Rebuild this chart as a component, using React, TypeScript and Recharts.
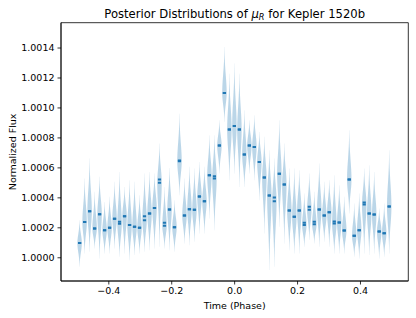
import React from 'react';
import { ComposedChart, Bar, XAxis, YAxis, ReferenceArea, Label } from 'recharts';

// Phase position of each posterior (63 bins)
const phases = [
  -0.4921, -0.4762, -0.4603, -0.4444, -0.4286, -0.4127, -0.3968, -0.381, -0.3651, -0.3492,
  -0.3333, -0.3175, -0.3016, -0.2857, -0.2698, -0.254, -0.2381, -0.2222, -0.2063, -0.1905,
  -0.1746, -0.1587, -0.1429, -0.127, -0.1111, -0.0952, -0.0794, -0.0635, -0.0476, -0.0317,
  -0.0159, 0.0, 0.0159, 0.0317, 0.0476, 0.0635, 0.0794, 0.0952, 0.1111, 0.127,
  0.1429, 0.1587, 0.1746, 0.1905, 0.2063, 0.2222, 0.2381, 0.254, 0.2698, 0.2857,
  0.3016, 0.3175, 0.3333, 0.3492, 0.3651, 0.381, 0.3968, 0.4127, 0.4286, 0.4444,
  0.4603, 0.4762, 0.4921,
];

const medians = [
  1.000098, 1.000238, 1.000311, 1.000196, 1.000291, 1.000184, 1.0002, 1.00026, 1.000227, 1.000278,
  1.000218, 1.000207, 1.0002, 1.000251, 1.000296, 1.000333, 1.0005, 1.000213, 1.000322, 1.000204,
  1.000644, 1.000282, 1.000324, 1.00032, 1.000409, 1.000378, 1.000551, 1.000529, 1.000749, 1.0011,
  1.000856, 1.00088, 1.000856, 1.000689, 1.000749, 1.00074, 1.00064, 1.000536, 1.000416, 1.000378,
  1.00056, 1.000489, 1.000316, 1.000273, 1.000316, 1.000218, 1.00032, 1.000224, 1.000322, 1.000282,
  1.000304, 1.000229, 1.000236, 1.000182, 1.000522, 1.000147, 1.000184, 1.000356, 1.000296, 1.000289,
  1.000176, 1.000164, 1.000342,
];

const means = [
  1.000098, 1.000238, 1.000311, 1.000196, 1.000291, 1.000184, 1.0002, 1.00026, 1.00024, 1.000278,
  1.000218, 1.000207, 1.0002, 1.000278, 1.000296, 1.000333, 1.000522, 1.000233, 1.000322, 1.000204,
  1.00065, 1.000282, 1.000324, 1.00032, 1.000409, 1.000378, 1.000551, 1.000544, 1.000749, 1.0011,
  1.000856, 1.00088, 1.000856, 1.000689, 1.000749, 1.00074, 1.00064, 1.000536, 1.000416, 1.000402,
  1.00056, 1.000489, 1.000316, 1.000273, 1.000316, 1.000233, 1.00034, 1.00024, 1.000322, 1.000282,
  1.000304, 1.000242, 1.000236, 1.000182, 1.000522, 1.000147, 1.000184, 1.000369, 1.000296, 1.000289,
  1.000176, 1.000164, 1.000342,
];

const uppers = [
  1.000251, 1.000529, 1.000662, 1.00044, 1.00054, 1.000373, 1.000407, 1.000507, 1.000573, 1.000473,
  1.000518, 1.000507, 1.000418, 1.000562, 1.000573, 1.000562, 1.000762, 1.000473, 1.0006, 1.000384,
  1.000962, 1.000529, 1.000607, 1.000596, 1.00064, 1.000607, 1.000818, 1.000818, 1.000918, 1.001407,
  1.001229, 1.001296, 1.001229, 1.000984, 1.000918, 1.000951, 1.00084, 1.000807, 1.000718, 1.000662,
  1.000918, 1.000762, 1.000596, 1.000596, 1.000584, 1.000429, 1.000562, 1.00044, 1.000629, 1.000507,
  1.000518, 1.000551, 1.000484, 1.000407, 1.000851, 1.000362, 1.000429, 1.000596, 1.000618, 1.000573,
  1.000329, 1.000362, 1.000718,
];

const lowers = [
  0.99994, 1.000029, 1.00004, 1.000062, 0.999996, 1.000029, 1.000029, 1.000062, 1.000007, 1.000029,
  0.999984, 1.000018, 1.000029, 1.00004, 1.000051, 1.000062, 1.000073, 1.000062, 1.000051, 1.00004,
  1.000418, 1.000096, 1.000084, 1.000107, 1.000162, 1.000162, 1.000262, 1.000184, 1.000562, 1.000907,
  1.000518, 1.000562, 1.000473, 1.000473, 1.000562, 1.000518, 1.000384, 1.000162, 0.999918, 0.99994,
  1.000207, 1.000096, 1.000051, 1.000029, 1.000029, 1.000073, 1.000118, 1.000096, 1.000073, 1.000107,
  1.000073, 1.000029, 1.000029, 1.000029, 1.000296, 1.000007, 0.999996, 1.000029, 1.000018, 1.000029,
  0.999996, 1.000007, 1.000029,
];

const xTicks = [-0.4, -0.2, 0.0, 0.2, 0.4];
const yTicks = [1.0, 1.0002, 1.0004, 1.0006, 1.0008, 1.001, 1.0012, 1.0014];
const xDomain: [number, number] = [-0.552, 0.552];
const yDomain: [number, number] = [0.999845, 1.001569];

const data = phases.map((p, i) => ({
  phase: p,
  range: [lowers[i], uppers[i]],
  lo: lowers[i],
  hi: uppers[i],
  median: medians[i],
  mean: means[i],
}));

const C0 = '#1f77b4';
const FONT = 'DejaVu Sans';

const Violin = (props: any) => {
  const { x, y, width, height, payload } = props;
  if (x == null || y == null) return null;
  const top = Math.min(y, y + height);
  const bot = Math.max(y, y + height);
  const hi = payload.hi;
  const lo = payload.lo;
  const toPx = (v: number) => top + ((bot - top) * (hi - v)) / (hi - lo);
  const cx = x + width / 2;
  const hw = width / 2;
  const medPx = toPx(payload.median);
  const sUp = Math.max((medPx - top) / 2.6, 0.5);
  const sDn = Math.max((bot - medPx) / 2.6, 0.5);
  const n = 60;
  const right: string[] = [];
  const left: string[] = [];
  for (let i = 0; i <= n; i++) {
    const py = top + ((bot - top) * i) / n;
    const d = py - medPx;
    const s = d < 0 ? sUp : sDn;
    const w = hw * Math.exp(-0.5 * (d / s) * (d / s));
    right.push(`${(cx + w).toFixed(2)},${py.toFixed(2)}`);
    left.unshift(`${(cx - w).toFixed(2)},${py.toFixed(2)}`);
  }
  const path = `M${right.join('L')}L${left.join('L')}Z`;
  const ml = 1.6;
  const meanPx = toPx(payload.mean);
  return (
    <g>
      <path d={path} fill={C0} fillOpacity={0.3} stroke="none" />
      <line x1={cx - ml} x2={cx + ml} y1={medPx} y2={medPx} stroke={C0} strokeWidth={2} />
      <line x1={cx - ml} x2={cx + ml} y1={meanPx} y2={meanPx} stroke={C0} strokeWidth={2} />
    </g>
  );
};

const fmtX = (v: number) => v.toFixed(1).replace('-', '\u2212');
const fmtY = (v: number) => v.toFixed(4);

export default function App() {
  return (
    <div style={{ position: 'absolute', left: 0, top: 0, width: 416, height: 318, background: '#fff' }}>
      <ComposedChart
        width={416}
        height={318}
        data={data}
        margin={{ top: 22.7, right: 7.7, left: 0, bottom: 0 }}
      >
        <XAxis
          dataKey="phase"
          type="number"
          domain={xDomain}
          ticks={xTicks}
          tickFormatter={fmtX}
          allowDataOverflow
          height={37}
          tickSize={3.5}
          tickMargin={3}
          axisLine={{ stroke: '#000', strokeWidth: 0.8 }}
          tickLine={{ stroke: '#000', strokeWidth: 0.8 }}
          tick={{ fill: '#000', fontSize: 9.5, fontFamily: FONT }}
        >
          <Label
            value="Time (Phase)"
            position="insideBottom"
            offset={9}
            style={{ fill: '#000', fontSize: 9.5, fontFamily: FONT }}
          />
        </XAxis>
        <YAxis
          type="number"
          domain={yDomain}
          ticks={yTicks}
          tickFormatter={fmtY}
          allowDataOverflow
          width={61}
          tickSize={3.5}
          tickMargin={3}
          axisLine={{ stroke: '#000', strokeWidth: 0.8 }}
          tickLine={{ stroke: '#000', strokeWidth: 0.8 }}
          tick={{ fill: '#000', fontSize: 9.5, fontFamily: FONT }}
        >
          <Label
            value="Normalized Flux"
            angle={-90}
            position="insideLeft"
            offset={13}
            style={{ fill: '#000', fontSize: 9.5, fontFamily: FONT, textAnchor: 'middle' }}
          />
        </YAxis>
        <Bar dataKey="range" barSize={7} shape={<Violin />} isAnimationActive={false} />
        <ReferenceArea
          x1={xDomain[0]}
          x2={xDomain[1]}
          y1={yDomain[0]}
          y2={yDomain[1]}
          fill="none"
          stroke="#000"
          strokeWidth={0.8}
          ifOverflow="visible"
        />
        <text
          x={234.7}
          y={17.5}
          textAnchor="middle"
          fontSize={11.6}
          fontFamily={FONT}
          fill="#000"
        >
          Posterior Distributions of{' '}
          <tspan fontStyle="italic">μ</tspan>
          <tspan fontStyle="italic" fontSize={8.2} dy={2.2}>R</tspan>
          <tspan dy={-2.2}> for Kepler 1520b</tspan>
        </text>
      </ComposedChart>
    </div>
  );
}
